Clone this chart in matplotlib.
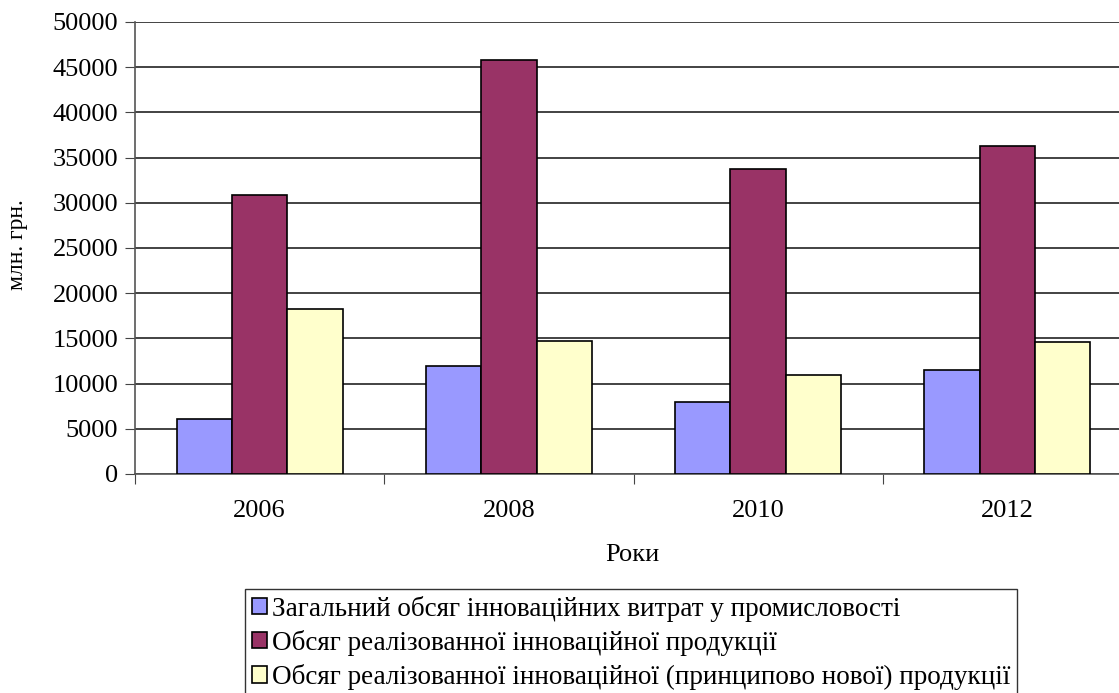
import numpy as np
import matplotlib.pyplot as plt

plt.rcParams['font.family'] = ['Liberation Serif', 'DejaVu Serif']

years = ['2006', '2008', '2010', '2012']
total_costs = [6130, 11920, 8010, 11450]
sold_products = [30850, 45790, 33730, 36240]
new_products = [18200, 14690, 11000, 14550]

series_names = ['Загальний обсяг інноваційних витрат у промисловості',
                'Обсяг реалізованної інноваційної продукції',
                'Обсяг реалізованної інноваційної (принципово нової) продукції']
colors = ['#9999ff', '#993366', '#ffffcc']

fig = plt.figure(figsize=(11.19, 6.93), dpi=100)
ax = fig.add_axes([135/1119, 1-474/693, 997/1119, 452/693])

x = np.arange(len(years))
w = 1/4.5
handles = []
for k, vals in enumerate([total_costs, sold_products, new_products]):
    b = ax.bar(x + (k-1)*w, vals, w, color=colors[k], edgecolor='black', linewidth=1.2,
               label=series_names[k], zorder=3)
    handles.append(b)

ax.set_xlim(-0.5, len(years)-0.5)
ax.set_ylim(0, 50000)
ax.set_yticks(np.arange(0, 50001, 5000))
ax.yaxis.grid(True, color='#222222', linewidth=1.2, zorder=0)
ax.set_xticks(np.arange(-0.5, len(years)), minor=False)
ax.set_xticklabels([])
ax.set_xticks(x, minor=True)
ax.set_xticklabels(years, minor=True)
ax.tick_params(axis='x', which='minor', length=0, pad=19, labelsize=19)
ax.tick_params(axis='x', which='major', length=7, color='#444444', direction='out')
ax.tick_params(axis='y', length=7, color='#444444', labelsize=19, pad=5)
for s in ['top', 'right']:
    ax.spines[s].set_visible(False)
for s in ['left', 'bottom']:
    ax.spines[s].set_color('#555555')
    ax.spines[s].set_linewidth(1.2)

fig.text(18/1119, 1-245/693, 'млн. грн.', rotation=90, ha='center', va='center', fontsize=17)
fig.text(632/1119, 1-555/693, 'Роки', ha='center', va='center', fontsize=19)

leg = fig.legend(handles=handles, loc='upper left', bbox_to_anchor=(245/1119, 1-589/693),
                 fontsize=19.5, frameon=True, fancybox=False, handlelength=0.55, handleheight=0.55,
                 handletextpad=0.2, labelspacing=0.3, borderpad=0.25, borderaxespad=0)
leg.get_frame().set_edgecolor('black')
leg.get_frame().set_linewidth(1.0)

fig.savefig('out.png', dpi=100)
